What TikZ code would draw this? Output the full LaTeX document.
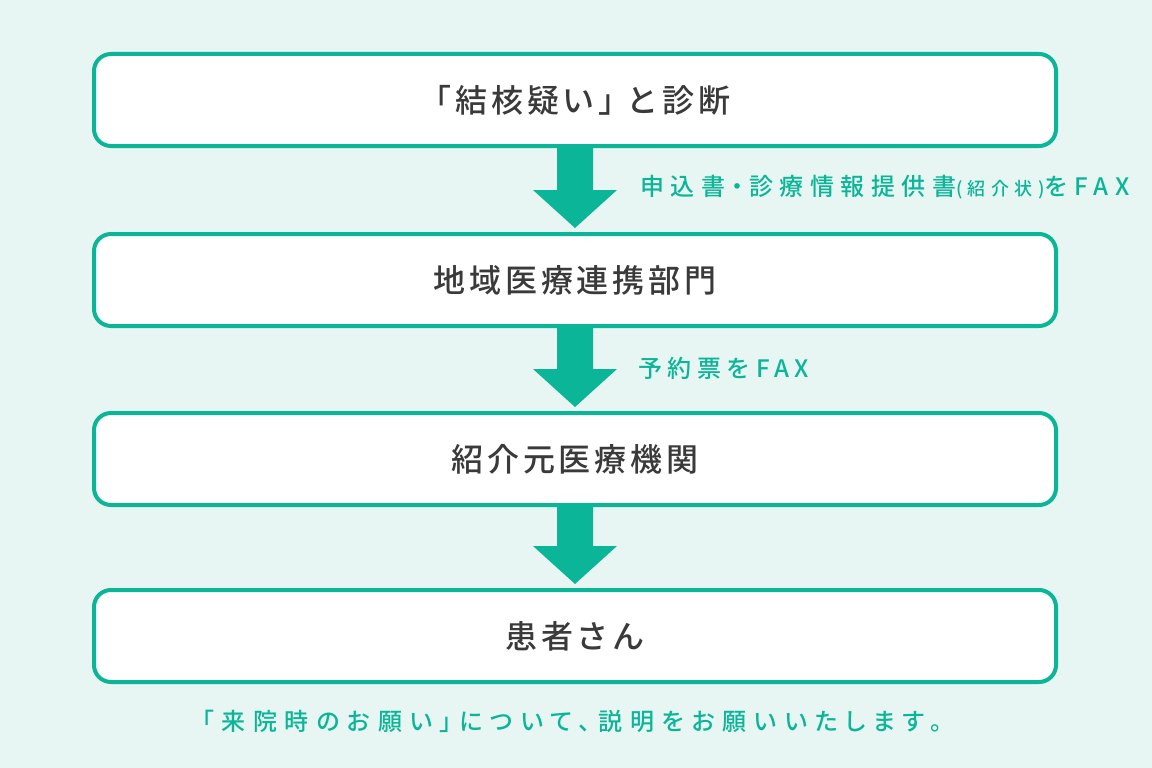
\documentclass[tikz,border=0pt]{standalone}
\usepackage{fontspec}
\setmainfont{Noto Sans CJK JP}[UprightFont=* Medium]
\usetikzlibrary{calc}
\definecolor{teal1}{HTML}{0BB597}
\definecolor{bg}{HTML}{E8F6F3}
\definecolor{txt}{HTML}{3A3A3A}
\tikzset{
  stepbox/.style={draw=teal1, line width=4pt, fill=white, rounded corners=17pt,
    minimum width=962pt, minimum height=92pt, inner sep=0pt, text=txt,
    font=\fontsize{32pt}{35pt}\selectfont\addfontfeatures{LetterSpace=12}},
  arr/.style={fill=teal1},
  lbl/.style={text=teal1, anchor=west, inner sep=0pt,
    font=\fontsize{24pt}{28pt}\selectfont\addfontfeatures{LetterSpace=27}},
  note/.style={text=teal1, inner sep=0pt,
    font=\fontsize{24pt}{28pt}\selectfont\addfontfeatures{LetterSpace=32,RawFeature=+palt}}
}
\newcommand{\blockarrow}[2]{%
  \fill[arr] ($(#1.south)+(-18,0)$) -- ($(#2.north)+(-18,-42)$) -- ($(#2.north)+(-42,-42)$)
    -- ($(#2.north)+(0,-4)$) -- ($(#2.north)+(42,-42)$) -- ($(#2.north)+(18,-42)$)
    -- ($(#1.south)+(18,0)$) -- cycle;}
\begin{document}
\begin{tikzpicture}[x=1pt,y=-1pt]
\fill[bg] (0,0) rectangle (1152,768);
\useasboundingbox (0,0) rectangle (1152,768);
\node[stepbox] (b1) at (575,100) {「結核疑い」\kern-4pt と診断};
\node[stepbox] (b2) at (575,280) {地域医療連携部門};
\node[stepbox] (b3) at (575,459) {紹介元医療機関};
\node[stepbox] (b4) at (575,636) {患者さん};
\blockarrow{b1}{b2}
\blockarrow{b2}{b3}
\blockarrow{b3}{b4}
\node[lbl] (l1) at (640,187) {申込書{\addfontfeatures{RawFeature=+palt}\hspace{6pt}・\hspace{6pt}}診療情報提供書{\fontsize{18pt}{20pt}\selectfont\addfontfeatures{LetterSpace=30,RawFeature=+palt}(紹介状)}をFAX};
\node[lbl, font=\fontsize{24pt}{28pt}\selectfont\addfontfeatures{LetterSpace=23}] (l2) at (638,368) {予約票をFAX};
\node[note] (n1) at (572,721) {「来院時のお願い」について、説明をお願いいたします。};
\end{tikzpicture}
\end{document}
